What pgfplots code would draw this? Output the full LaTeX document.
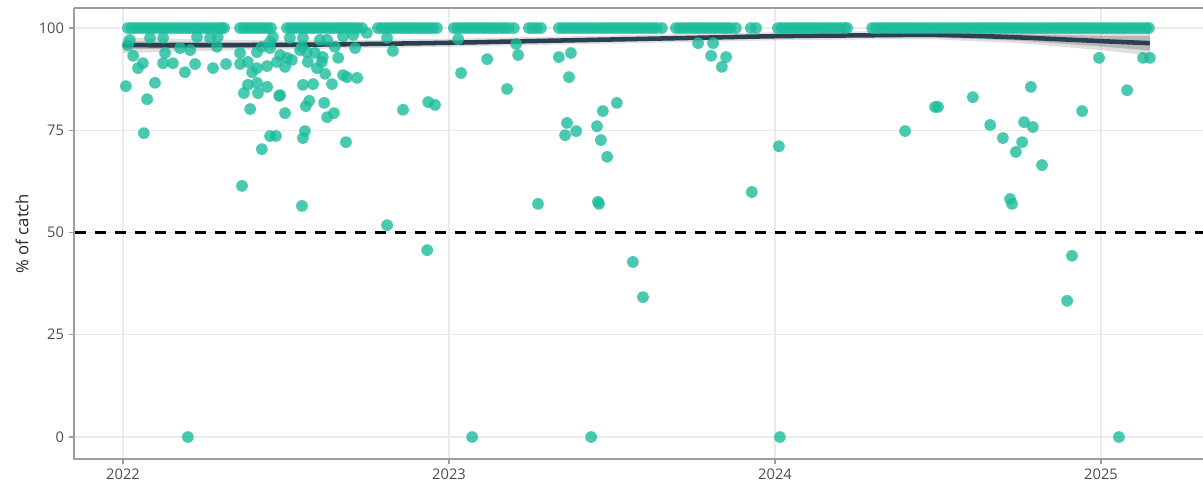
\documentclass[border=0pt]{standalone}
\usepackage{fontspec}
\setmainfont{Open Sans}
\usepackage{pgfplots}
\pgfplotsset{compat=1.18}
\usepgfplotslibrary{fillbetween}

\definecolor{dot}{HTML}{1ABC9C}
\definecolor{trend}{HTML}{2C3E50}
\definecolor{gridc}{HTML}{EBEBEB}
\definecolor{framec}{HTML}{9E9E9E}
\definecolor{labc}{HTML}{4D4D4D}

\pgfplotsset{catch/.style={only marks, mark=*, mark size=4.4pt, color=dot,
    mark options={draw opacity=0, fill opacity=0.8, line width=0pt}}}

\begin{document}
\begin{tikzpicture}
% 1 px of the reference = 0.75pt
\begin{axis}[
    scale only axis,
    width=846.75pt, height=338.25pt,
    xmin=2021.8497, xmax=2025.3129,
    ymin=-5.38, ymax=104.9,
    clip=false,
    axis line style={draw=none},
    xtick={2022,2023,2024,2025},
    xticklabels={2022,2023,2024,2025},
    ytick={0,25,50,75,100},
    grid=major,
    major grid style={color=gridc, line width=1.1pt},
    tick align=outside,
    tick pos=left,
    major tick length=4pt,
    tick style={color=framec, line width=1pt},
    /pgf/number format/assume math mode=true,
    ticklabel style={font=\fontsize{11}{13}\selectfont, text=labc},
    ylabel={\% of catch},
    every axis y label/.style={at={(axis description cs:-0.0461,0.5)},
        rotate=90, anchor=center, font=\fontsize{12.5}{15}\selectfont, text=black!85},
]

% dashed reference at 50 %
\addplot[black, line width=2pt, dash pattern=on 8.5pt off 6.5pt]
    coordinates {(2021.853,50) (2025.3129,50)};

% catches at 100 %
\addplot[catch] coordinates {
(2022.015,100) (2022.027,100) (2022.039,100) (2022.051,100) (2022.063,100)
(2022.075,100) (2022.087,100) (2022.099,100) (2022.111,100) (2022.123,100)
(2022.135,100) (2022.147,100) (2022.159,100) (2022.171,100) (2022.183,100)
(2022.195,100) (2022.207,100) (2022.219,100) (2022.231,100) (2022.243,100)
(2022.255,100) (2022.267,100) (2022.279,100) (2022.291,100) (2022.303,100)
(2022.310,100)
(2022.359,100) (2022.371,100) (2022.383,100) (2022.395,100) (2022.407,100)
(2022.419,100) (2022.431,100) (2022.443,100) (2022.454,100)
(2022.503,100) (2022.515,100) (2022.527,100) (2022.539,100) (2022.551,100)
(2022.563,100) (2022.575,100) (2022.587,100) (2022.599,100) (2022.611,100)
(2022.623,100) (2022.635,100) (2022.647,100) (2022.659,100) (2022.671,100)
(2022.683,100) (2022.695,100) (2022.707,100) (2022.719,100) (2022.733,100)
(2022.782,100) (2022.794,100) (2022.806,100) (2022.818,100) (2022.830,100)
(2022.842,100) (2022.854,100) (2022.866,100) (2022.878,100) (2022.890,100)
(2022.902,100) (2022.914,100) (2022.926,100) (2022.938,100) (2022.950,100)
(2022.963,100)
(2023.015,100) (2023.027,100) (2023.039,100) (2023.051,100) (2023.063,100)
(2023.075,100) (2023.087,100) (2023.099,100) (2023.111,100) (2023.123,100)
(2023.135,100) (2023.147,100) (2023.159,100) (2023.171,100) (2023.183,100)
(2023.199,100)
(2023.245,100) (2023.257,100) (2023.269,100) (2023.282,100)
(2023.337,100) (2023.349,100) (2023.361,100) (2023.373,100) (2023.385,100)
(2023.397,100) (2023.409,100) (2023.421,100) (2023.433,100) (2023.445,100)
(2023.457,100) (2023.469,100) (2023.481,100) (2023.493,100) (2023.505,100)
(2023.517,100) (2023.529,100) (2023.541,100) (2023.553,100) (2023.565,100)
(2023.577,100) (2023.589,100) (2023.601,100) (2023.613,100) (2023.625,100)
(2023.637,100) (2023.653,100)
(2023.696,100) (2023.708,100) (2023.720,100) (2023.732,100) (2023.744,100)
(2023.756,100) (2023.768,100) (2023.780,100) (2023.792,100) (2023.804,100)
(2023.816,100) (2023.828,100) (2023.840,100) (2023.852,100) (2023.864,100)
(2023.880,100)
(2023.926,100) (2023.942,100)
(2024.009,100) (2024.021,100) (2024.033,100) (2024.045,100) (2024.057,100)
(2024.069,100) (2024.081,100) (2024.093,100) (2024.105,100) (2024.117,100)
(2024.129,100) (2024.141,100) (2024.153,100) (2024.165,100) (2024.177,100)
(2024.189,100) (2024.201,100) (2024.213,100) (2024.221,100)
(2024.298,100) (2024.310,100) (2024.322,100) (2024.334,100) (2024.346,100)
(2024.358,100) (2024.370,100) (2024.382,100) (2024.394,100) (2024.406,100)
(2024.418,100) (2024.430,100) (2024.442,100) (2024.454,100) (2024.466,100)
(2024.478,100) (2024.490,100) (2024.502,100) (2024.514,100) (2024.526,100)
(2024.538,100) (2024.550,100) (2024.562,100) (2024.574,100) (2024.586,100)
(2024.598,100) (2024.610,100) (2024.622,100) (2024.634,100) (2024.646,100)
(2024.658,100) (2024.670,100) (2024.682,100) (2024.694,100) (2024.706,100)
(2024.718,100) (2024.730,100) (2024.742,100) (2024.754,100) (2024.766,100)
(2024.778,100) (2024.790,100) (2024.802,100) (2024.814,100) (2024.826,100)
(2024.838,100) (2024.850,100) (2024.862,100) (2024.874,100) (2024.886,100)
(2024.898,100) (2024.910,100) (2024.922,100) (2024.934,100) (2024.946,100)
(2024.958,100) (2024.970,100) (2024.982,100) (2024.994,100) (2025.006,100)
(2025.018,100) (2025.030,100) (2025.042,100) (2025.054,100) (2025.066,100)
(2025.078,100) (2025.090,100) (2025.102,100) (2025.114,100) (2025.126,100)
(2025.138,100) (2025.147,100)
};

% catches below 100 %
\addplot[catch] coordinates {
(2022.009,85.8) (2022.015,95.8) (2022.021,97.1) (2022.031,93.2) (2022.046,90.2)
(2022.061,91.4) (2022.074,82.6) (2022.064,74.3) (2022.098,86.6) (2022.083,97.6)
(2022.123,91.4) (2022.123,97.6) (2022.129,93.9) (2022.153,91.4) (2022.175,95.1)
(2022.190,89.2) (2022.206,94.6) (2022.221,91.2) (2022.227,97.8) (2022.267,97.6)
(2022.276,90.2) (2022.288,95.4) (2022.291,97.8) (2022.316,91.2) (2022.199,0)
(2022.359,91.2) (2022.359,93.9) (2022.365,61.4) (2022.371,84.1) (2022.383,91.7)
(2022.383,86.1) (2022.390,80.2) (2022.396,89.2) (2022.411,90.2) (2022.411,86.6)
(2022.411,94.1) (2022.414,84.1) (2022.426,70.4) (2022.426,95.4) (2022.442,90.7)
(2022.442,85.6) (2022.451,73.6) (2022.451,95.1) (2022.451,96.6) (2022.460,97.8)
(2022.469,73.6) (2022.472,91.7) (2022.479,83.4) (2022.482,93.4) (2022.482,83.6)
(2022.497,79.2) (2022.497,90.5) (2022.503,92.7) (2022.512,97.6) (2022.518,92.2)
(2022.543,94.6) (2022.549,56.5) (2022.549,95.4) (2022.552,86.1) (2022.552,97.6)
(2022.558,74.8) (2022.552,73.1) (2022.561,80.9) (2022.564,94.1) (2022.567,91.7)
(2022.571,82.2) (2022.583,86.3) (2022.589,93.9) (2022.595,90.2) (2022.604,97.1)
(2022.610,91.7) (2022.613,92.9) (2022.617,81.7) (2022.620,88.8) (2022.626,97.1)
(2022.626,78.2) (2022.641,86.3) (2022.647,79.2) (2022.650,95.4) (2022.660,92.7)
(2022.675,88.5) (2022.675,98.0) (2022.684,72.1) (2022.687,88.0) (2022.706,98.3)
(2022.712,95.1) (2022.718,87.8) (2022.748,98.8) (2022.810,51.8) (2022.810,97.6)
(2022.828,94.4) (2022.859,80.0) (2022.936,81.9) (2022.957,81.2) (2022.933,45.7)
(2023.028,97.3) (2023.037,89.0) (2023.071,0) (2023.117,92.4) (2023.178,85.1)
(2023.206,96.1) (2023.212,93.4) (2023.273,57.0) (2023.337,92.9) (2023.374,93.9)
(2023.368,88.0) (2023.362,76.8) (2023.356,73.8) (2023.390,74.8) (2023.436,0)
(2023.454,76.0) (2023.457,57.5) (2023.460,57.0) (2023.466,72.6) (2023.472,79.7)
(2023.485,68.5) (2023.515,81.7) (2023.564,42.8) (2023.595,34.2) (2023.764,96.3)
(2023.804,93.2) (2023.810,96.3) (2023.837,90.5) (2023.850,92.9) (2023.929,59.9)
(2024.012,71.1) (2024.015,0)
(2024.399,74.8) (2024.491,80.7) (2024.500,80.7) (2024.607,83.1) (2024.660,76.3)
(2024.699,73.1) (2024.721,58.2) (2024.727,57.0) (2024.739,69.7) (2024.758,72.1)
(2024.764,77.0) (2024.785,85.6) (2024.791,75.8) (2024.819,66.5) (2024.896,33.3)
(2024.911,44.3) (2024.942,79.7) (2024.994,92.7) (2025.055,0) (2025.080,84.8)
(2025.129,92.7) (2025.150,92.7)
};

% smoothed trend with its uncertainty bands
\addplot[draw=none, name path=ou, forget plot] coordinates {
(2022.00,97.7) (2022.25,97.2) (2022.50,97.0) (2022.75,97.1) (2023.00,97.4)
(2023.25,97.8) (2023.50,98.2) (2023.75,98.6) (2024.00,99.0) (2024.25,99.2)
(2024.50,99.4) (2024.75,99.1) (2025.00,99.0) (2025.15,99.3)};
\addplot[draw=none, name path=ol, forget plot] coordinates {
(2022.00,93.9) (2022.25,94.4) (2022.50,94.8) (2022.75,95.1) (2023.00,95.4)
(2023.25,95.8) (2023.50,96.2) (2023.75,96.6) (2024.00,97.0) (2024.25,97.2)
(2024.50,97.2) (2024.75,96.3) (2025.00,94.6) (2025.15,93.3)};
\addplot[gray, fill opacity=0.25, forget plot] fill between[of=ou and ol];
\addplot[draw=none, name path=iu, forget plot] coordinates {
(2022.00,96.8) (2022.25,96.5) (2022.50,96.5) (2022.75,96.6) (2023.00,96.9)
(2023.25,97.3) (2023.50,97.7) (2023.75,98.1) (2024.00,98.5) (2024.25,98.7)
(2024.50,98.9) (2024.75,98.5) (2025.00,98.1) (2025.15,98.1)};
\addplot[draw=none, name path=il, forget plot] coordinates {
(2022.00,94.8) (2022.25,95.1) (2022.50,95.3) (2022.75,95.6) (2023.00,95.9)
(2023.25,96.3) (2023.50,96.7) (2023.75,97.1) (2024.00,97.5) (2024.25,97.7)
(2024.50,97.7) (2024.75,96.9) (2025.00,95.5) (2025.15,94.5)};
\addplot[gray!70!trend, fill opacity=0.35, forget plot] fill between[of=iu and il];
\addplot[trend, line width=3.4pt, smooth] coordinates {
(2022.00,95.8) (2022.25,95.8) (2022.50,95.9) (2022.75,96.1) (2023.00,96.4)
(2023.25,96.8) (2023.50,97.2) (2023.75,97.6) (2024.00,98.0) (2024.25,98.2)
(2024.50,98.3) (2024.75,97.7) (2025.00,96.8) (2025.15,96.3)};

% panel frame: left, bottom and top
\draw[framec, line width=1.5pt] (rel axis cs:0,1) -- (rel axis cs:1,1);
\draw[framec, line width=1.5pt] (rel axis cs:0,1) -- (rel axis cs:0,0) -- (rel axis cs:1,0);
\end{axis}
\pgfresetboundingbox
\path (-55.5pt,-23.25pt) rectangle (846.75pt,344.25pt);
\end{tikzpicture}
\end{document}
